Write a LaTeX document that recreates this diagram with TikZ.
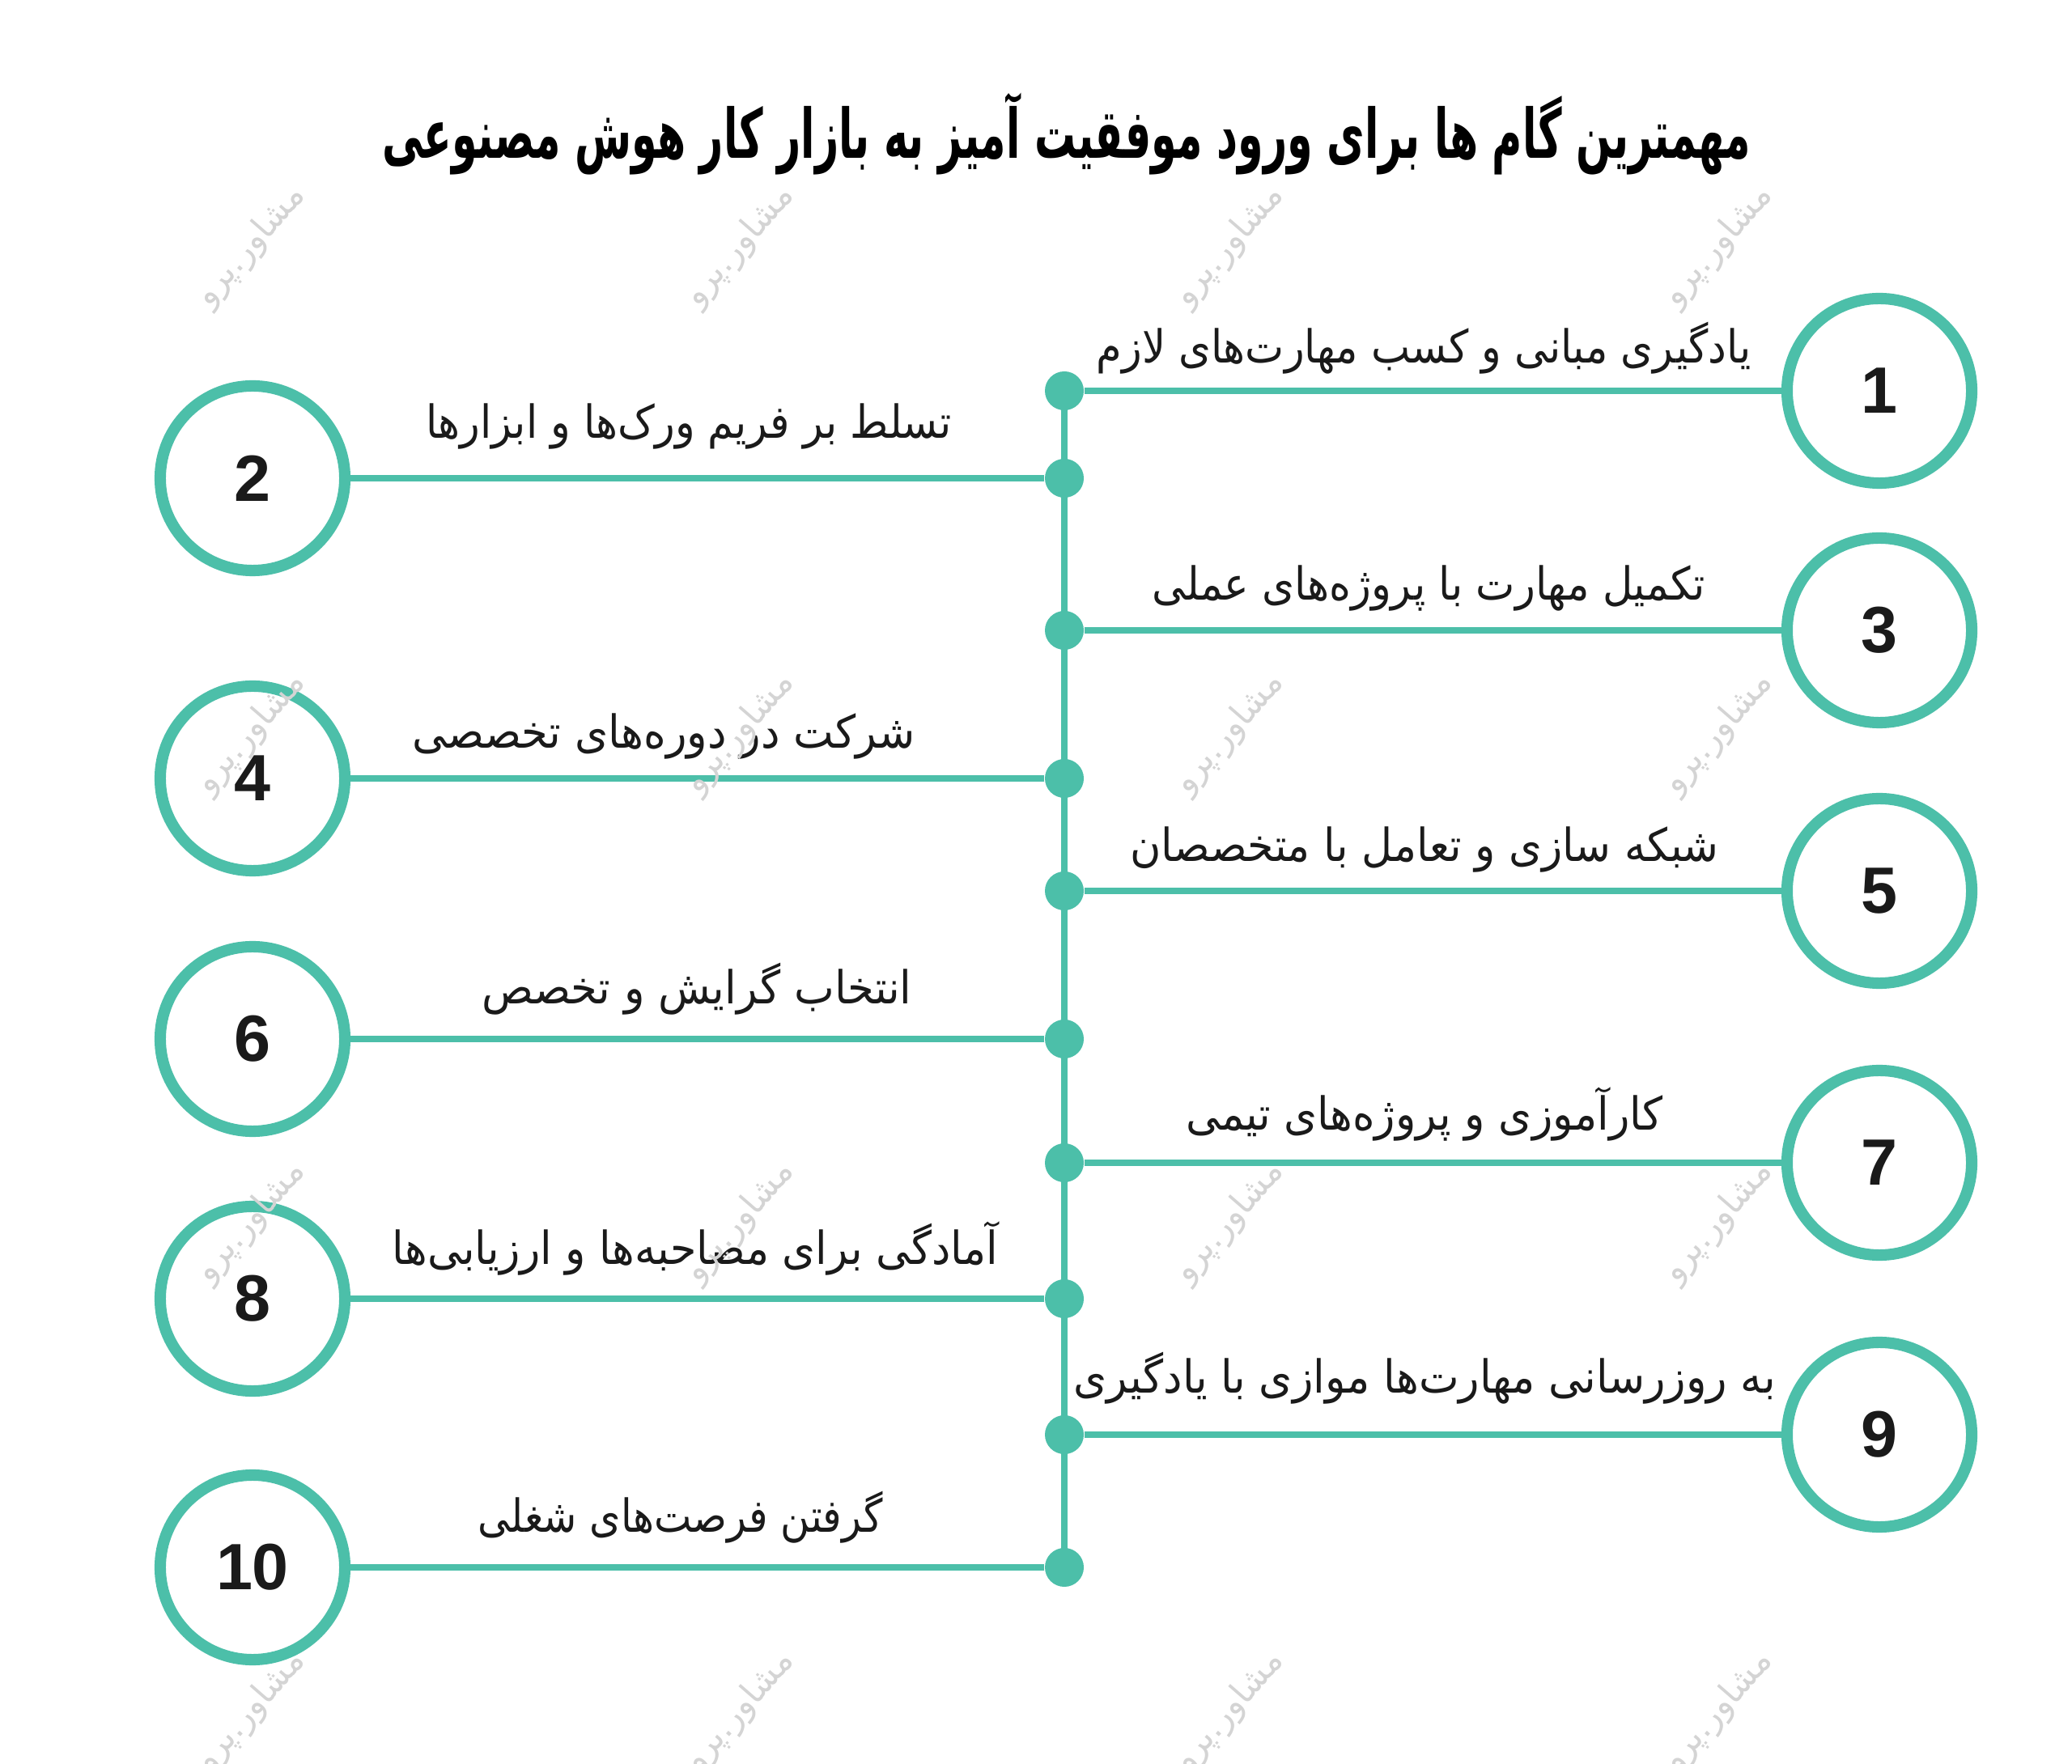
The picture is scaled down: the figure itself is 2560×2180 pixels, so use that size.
\documentclass[tikz,border=0pt]{standalone}
\usepackage{graphicx}
\usepackage{fontspec}
\TeXXeTstate=1
\newfontfamily\fa[Script=Arabic]{DejaVu Sans}
\newfontfamily\numfont{Liberation Sans}
\definecolor{teal1}{RGB}{76,191,169}
\definecolor{ink}{RGB}{26,26,26}
\definecolor{wm}{RGB}{212,212,212}
\tikzset{
  numc/.style={circle,draw=teal1,line width=4pt,minimum size=2.28cm,inner sep=0pt,fill=white,
    font=\numfont\bfseries\fontsize{23}{25}\selectfont,text=ink},
  dotn/.style={circle,fill=teal1,minimum size=0.48cm,inner sep=0pt},
  conn/.style={teal1,line width=2.4pt},
  lbl/.style={font=\fa\fontsize{16}{19}\selectfont,text=ink,inner sep=0pt},
  ttl/.style={font=\fa\bfseries\fontsize{24}{28}\selectfont,text=black,inner sep=0pt},
  wmk/.style={font=\fa\fontsize{12}{14}\selectfont,text=wm,rotate=49,inner sep=0pt}
}
\begin{document}
\begin{tikzpicture}[x=0.01cm,y=-0.01cm]
\useasboundingbox[fill=white] (0,0) rectangle (2560,2180);
% title
\node[ttl] (title) at (1318,166) {\resizebox{16.9cm}{\height}{\beginR مهمترین گام ها برای ورود موفقیت آمیز به بازار کار هوش مصنوعی\endR}};
% dots
\node[dotn] (d1) at (1315,483) {};
\node[dotn] (d2) at (1315,591) {};
\node[dotn] (d3) at (1315,779) {};
\node[dotn] (d4) at (1315,962) {};
\node[dotn] (d5) at (1315,1101) {};
\node[dotn] (d6) at (1315,1284) {};
\node[dotn] (d7) at (1315,1437) {};
\node[dotn] (d8) at (1315,1605) {};
\node[dotn] (d9) at (1315,1773) {};
\node[dotn] (d10) at (1315,1937) {};
\draw[conn] (d1.center) -- (d10.center);
% circles
\node[numc] (c1) at (2322,483) {1};
\node[numc] (c2) at (312,591) {2};
\node[numc] (c3) at (2322,779) {3};
\node[numc] (c4) at (312,962) {4};
\node[numc] (c5) at (2322,1101) {5};
\node[numc] (c6) at (312,1284) {6};
\node[numc] (c7) at (2322,1437) {7};
\node[numc] (c8) at (312,1605) {8};
\node[numc] (c9) at (2322,1773) {9};
\node[numc] (c10) at (312,1937) {10};
% connectors
\foreach \i in {1,...,10}{\draw[conn] (d\i) -- (c\i);}
% labels
\node[lbl] (t1) at (1759,430) {\resizebox{8.08cm}{\height}{\beginR یادگیری مبانی و کسب مهارت^^^^200cهای لازم\endR}};
\node[lbl] (t2) at (851,527) {\resizebox{6.49cm}{\height}{\beginR تسلط بر فریم ورک^^^^200cها و ابزارها\endR}};
\node[lbl] (t3) at (1765,727) {\resizebox{6.83cm}{\height}{\beginR تکمیل مهارت با پروژه^^^^200cهای عملی\endR}};
\node[lbl] (t4) at (820,910) {\resizebox{6.21cm}{\height}{\beginR شرکت در دوره^^^^200cهای تخصصی\endR}};
\node[lbl] (t5) at (1760,1050) {\resizebox{7.27cm}{\height}{\beginR شبکه سازی و تعامل با متخصصان\endR}};
\node[lbl] (t6) at (861,1222) {\resizebox{5.31cm}{\height}{\beginR انتخاب گرایش و تخصص\endR}};
\node[lbl] (t7) at (1760,1377) {\resizebox{5.89cm}{\height}{\beginR کارآموزی و پروژه^^^^200cهای تیمی\endR}};
\node[lbl] (t8) at (859,1543) {\resizebox{7.48cm}{\height}{\beginR آمادگی برای مصاحبه^^^^200cها و ارزیابی^^^^200cها\endR}};
\node[lbl] (t9) at (1760,1703) {\resizebox{8.67cm}{\height}{\beginR به روزرسانی مهارت^^^^200cها موازی با یادگیری\endR}};
\node[lbl] (t10) at (841,1875) {\resizebox{5.00cm}{\height}{\beginR گرفتن فرصت^^^^200cهای شغلی\endR}};
% watermarks
\foreach \x [count=\ci] in {310,914,1519,2123}{
  \foreach \y [count=\ri] in {304,906,1510,2115}{
    \node[wmk] (w\ci\ri) at (\x,\y) {\beginR مشاور.پرو\endR};
  }
}
\end{tikzpicture}
\end{document}
